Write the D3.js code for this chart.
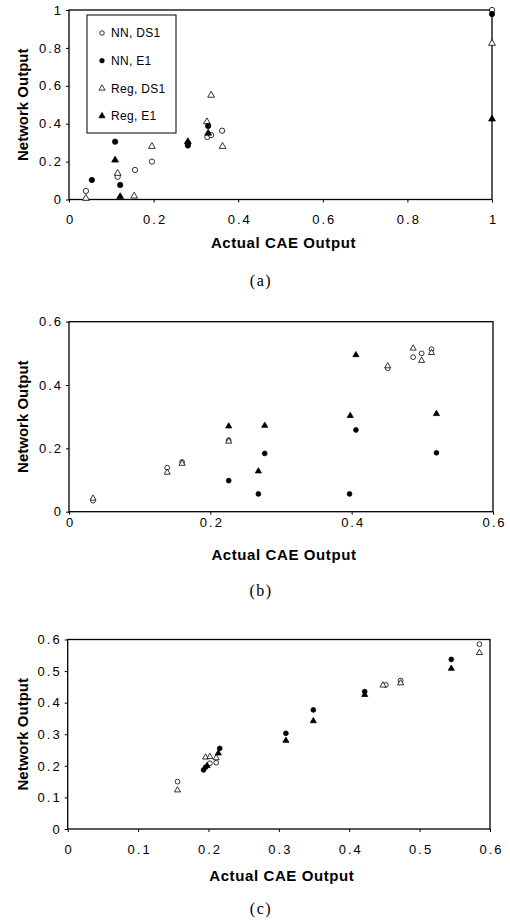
<!DOCTYPE html>
<html>
<head>
<meta charset="utf-8">
<script src="https://cdn.jsdelivr.net/npm/d3@7"></script>
<style>
  body { margin: 0; background: #fff; }
  text { font-family: "Liberation Sans", Arial, sans-serif; fill: #000; }
</style>
</head>
<body>
<svg id="chart" width="510" height="921"></svg>
<script>
// series names (legend)
var seriesNames = ["NN, DS1", "NN, E1", "Reg, DS1", "Reg, E1"];

// panel (a) points [actual, network]
var aNNDS1 = [[0.04, 0.045], [0.115, 0.12], [0.156, 0.156], [0.196, 0.2], [0.327, 0.33], [0.336, 0.34], [0.362, 0.363], [1.0, 1.0]];
var aNNE1 = [[0.054, 0.103], [0.109, 0.305], [0.121, 0.077], [0.281, 0.285], [0.281, 0.298], [0.329, 0.388], [1.0, 0.979]];
var aRegDS1 = [[0.04, 0.006], [0.115, 0.138], [0.154, 0.018], [0.196, 0.28], [0.326, 0.41], [0.336, 0.55], [0.363, 0.28], [1.0, 0.824]];
var aRegE1 = [[0.109, 0.208], [0.121, 0.015], [0.281, 0.305], [0.329, 0.35], [1.0, 0.425]];

// panel (b)
var bNNDS1 = [[0.034, 0.035], [0.139, 0.139], [0.16, 0.157], [0.226, 0.226], [0.451, 0.453], [0.487, 0.488], [0.499, 0.5], [0.513, 0.513]];
var bNNE1 = [[0.226, 0.098], [0.268, 0.056], [0.277, 0.184], [0.397, 0.056], [0.406, 0.258], [0.52, 0.186]];
var bRegDS1 = [[0.034, 0.042], [0.139, 0.124], [0.16, 0.152], [0.226, 0.222], [0.451, 0.46], [0.487, 0.516], [0.499, 0.477], [0.513, 0.502]];
var bRegE1 = [[0.226, 0.27], [0.268, 0.128], [0.277, 0.272], [0.398, 0.303], [0.406, 0.495], [0.52, 0.309]];

// panel (c)
var cNNDS1 = [[0.156, 0.15], [0.202, 0.208], [0.211, 0.21], [0.452, 0.456], [0.473, 0.47], [0.585, 0.585]];
var cNNE1 = [[0.193, 0.187], [0.196, 0.196], [0.216, 0.255], [0.31, 0.303], [0.349, 0.377], [0.422, 0.435], [0.545, 0.537]];
var cRegDS1 = [[0.156, 0.123], [0.196, 0.227], [0.202, 0.229], [0.211, 0.225], [0.448, 0.455], [0.473, 0.462], [0.585, 0.558]];
var cRegE1 = [[0.198, 0.2], [0.214, 0.24], [0.31, 0.28], [0.349, 0.342], [0.422, 0.425], [0.545, 0.508]];

// tick values
var aTicksX = [0, 0.2, 0.4, 0.6, 0.8, 1];
var aTicksY = [0, 0.2, 0.4, 0.6, 0.8, 1];
var bTicksX = [0, 0.2, 0.4, 0.6];
var bTicksY = [0, 0.2, 0.4, 0.6];
var cTicksX = [0, 0.1, 0.2, 0.3, 0.4, 0.5, 0.6];
var cTicksY = [0, 0.1, 0.2, 0.3, 0.4, 0.5, 0.6];

var xTitle = "Actual CAE Output",
    yTitle = "Network Output";

var svg = d3.select("#chart");
svg.append("rect").attr("width", 510).attr("height", 921).attr("fill", "#fff");

var fmt = d3.format("~g");

function drawMarks(g, pts, x, y, shape, filled, sz) {
    var sym = d3.symbol().type(shape == "tri" ? d3.symbolTriangle : d3.symbolCircle).size(sz);
    g.selectAll(null)
        .data(pts)
        .enter().append("path")
        .attr("d", sym)
        .attr("transform", function(d) { return "translate(" + x(d[0]) + "," + y(d[1]) + ")"; })
        .attr("fill", filled ? "#000" : "#fff")
        .attr("stroke", "#000")
        .attr("stroke-width", 0.8);
}

function drawPanel(p) {
    var x = d3.scaleLinear().domain([0, p.xmax]).range([p.left, p.right]),
        y = d3.scaleLinear().domain([0, p.ymax]).range([p.bottom, p.top]);

    var g = svg.append("g");

    // frame
    g.append("rect")
        .attr("x", p.left).attr("y", p.top)
        .attr("width", p.right - p.left).attr("height", p.bottom - p.top)
        .attr("fill", "none").attr("stroke", "#000").attr("stroke-width", 1.3);

    var xa = g.append("g")
        .attr("transform", "translate(0," + p.bottom + ")")
        .call(d3.axisBottom(x).tickValues(p.ticksX).tickFormat(fmt).tickSize(3).tickPadding(p.xpad));
    var ya = g.append("g")
        .attr("transform", "translate(" + p.left + ",0)")
        .call(d3.axisLeft(y).tickValues(p.ticksY).tickFormat(fmt).tickSize(3).tickPadding(3));
    [xa, ya].forEach(function(a) {
        a.select(".domain").remove();
        a.selectAll("text").attr("font-size", 13).attr("letter-spacing", 2).attr("font-family", null);
        a.selectAll("line").attr("stroke-width", 1);
    });
    xa.selectAll("text").attr("dx", 1);

    g.append("text")
        .attr("x", (p.left + p.right) / 2 + 3)
        .attr("y", p.titleY)
        .attr("text-anchor", "middle")
        .attr("dy", "0.35em")
        .attr("font-weight", "bold")
        .attr("font-size", 15)
        .attr("letter-spacing", 0.6)
        .text(xTitle);

    g.append("text")
        .attr("transform", "translate(23," + (p.top + p.bottom) / 2 + ") rotate(-90)")
        .attr("text-anchor", "middle")
        .attr("dy", "0.35em")
        .attr("font-weight", "bold")
        .attr("font-size", 15)
        .text(yTitle);

    g.append("text")
        .attr("x", 261)
        .attr("y", p.capY)
        .attr("text-anchor", "middle")
        .attr("dy", "0.35em")
        .attr("font-size", 16)
        .attr("letter-spacing", 1.5)
        .style("font-family", "'Liberation Serif', 'DejaVu Serif', serif")
        .text(p.caption);

    var marks = g.append("g");
    drawMarks(marks, p.s[0], x, y, "circle", false, p.cs);
    drawMarks(marks, p.s[2], x, y, "tri", false, p.ts);
    drawMarks(marks, p.s[1], x, y, "circle", true, p.cs);
    drawMarks(marks, p.s[3], x, y, "tri", true, p.ts);
    return g;
}

var ga = drawPanel({left: 69, right: 492, top: 10, bottom: 199.5, xmax: 1, ymax: 1,
    ticksX: aTicksX, ticksY: aTicksY, xpad: 12, titleY: 243, capY: 280, caption: "(a)",
    s: [aNNDS1, aNNE1, aRegDS1, aRegE1], cs: 22, ts: 20});

var gb = drawPanel({left: 69, right: 493, top: 321.7, bottom: 511.7, xmax: 0.6, ymax: 0.6,
    ticksX: bTicksX, ticksY: bTicksY, xpad: 3, titleY: 555, capY: 590, caption: "(b)",
    s: [bNNDS1, bNNE1, bRegDS1, bRegE1], cs: 18, ts: 16});

var gc = drawPanel({left: 67.7, right: 490, top: 639.5, bottom: 829, xmax: 0.6, ymax: 0.6,
    ticksX: cTicksX, ticksY: cTicksY, xpad: 13, titleY: 876, capY: 908, caption: "(c)",
    s: [cNNDS1, cNNE1, cRegDS1, cRegE1], cs: 18, ts: 16});

// legend for panel (a)
var leg = ga.append("g");
leg.append("rect")
    .attr("x", 87).attr("y", 15).attr("width", 89).attr("height", 118)
    .attr("fill", "#fff").attr("stroke", "#000").attr("stroke-width", 1);
var legY = d3.scalePoint().domain(seriesNames).range([33, 116]);
seriesNames.forEach(function(name, i) {
    var sym = d3.symbol().type(i < 2 ? d3.symbolCircle : d3.symbolTriangle).size(16);
    leg.append("path")
        .attr("d", sym)
        .attr("transform", "translate(102," + legY(name) + ")")
        .attr("fill", i % 2 ? "#000" : "#fff")
        .attr("stroke", "#000").attr("stroke-width", 0.8);
    leg.append("text")
        .attr("x", 111).attr("y", legY(name))
        .attr("dy", "0.35em")
        .attr("font-size", 12)
        .attr("letter-spacing", 0.3)
        .text(name);
});
</script>
</body>
</html>
